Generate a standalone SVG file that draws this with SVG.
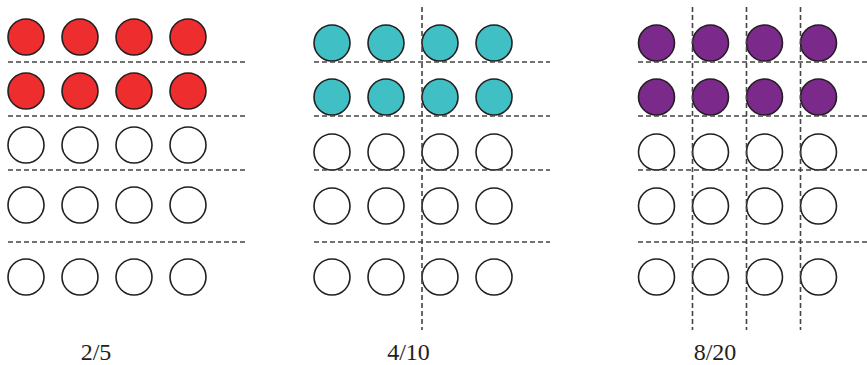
<svg xmlns="http://www.w3.org/2000/svg" width="867" height="365" viewBox="0 0 867 365">
<style>
.c{stroke:#231f20;stroke-width:1.6;fill:#fff}
.r{fill:#ee2e2e}
.t{fill:#40c0c5}
.p{fill:#7b2a8b}
.d{stroke:#444;stroke-width:1.6;stroke-dasharray:5 3;fill:none}
.lbl{font-family:"Liberation Serif","Times New Roman",serif;font-size:24px;fill:#231f20;text-anchor:middle}
</style>
<defs>
<g id="row1"><circle class="c" cx="0" cy="0" r="18"/><circle class="c" cx="54" cy="0" r="18"/><circle class="c" cx="108" cy="0" r="18"/><circle class="c" cx="162" cy="0" r="18"/></g>
</defs>
<g id="panel-2-5">
<g transform="translate(26,37)" class="r"><circle class="c r" cx="0" cy="0" r="18"/><circle class="c r" cx="54" cy="0" r="18"/><circle class="c r" cx="108" cy="0" r="18"/><circle class="c r" cx="162" cy="0" r="18"/></g>
<g transform="translate(26,91)"><circle class="c r" cx="0" cy="0" r="18"/><circle class="c r" cx="54" cy="0" r="18"/><circle class="c r" cx="108" cy="0" r="18"/><circle class="c r" cx="162" cy="0" r="18"/></g>
<use href="#row1" x="26" y="145"/>
<use href="#row1" x="26" y="205"/>
<use href="#row1" x="26" y="277"/>
<text class="lbl" x="96" y="360">2/5</text>
</g>
<g id="panel-4-10">
<g transform="translate(332,43)"><circle class="c t" cx="0" cy="0" r="18"/><circle class="c t" cx="54" cy="0" r="18"/><circle class="c t" cx="108" cy="0" r="18"/><circle class="c t" cx="162" cy="0" r="18"/></g>
<g transform="translate(332,97)"><circle class="c t" cx="0" cy="0" r="18"/><circle class="c t" cx="54" cy="0" r="18"/><circle class="c t" cx="108" cy="0" r="18"/><circle class="c t" cx="162" cy="0" r="18"/></g>
<use href="#row1" x="332" y="152"/>
<use href="#row1" x="332" y="206"/>
<use href="#row1" x="332" y="277"/>
<text class="lbl" x="408.5" y="360">4/10</text>
</g>
<g id="panel-8-20">
<g transform="translate(656.5,43)"><circle class="c p" cx="0" cy="0" r="18"/><circle class="c p" cx="54" cy="0" r="18"/><circle class="c p" cx="108" cy="0" r="18"/><circle class="c p" cx="162" cy="0" r="18"/></g>
<g transform="translate(656.5,97)"><circle class="c p" cx="0" cy="0" r="18"/><circle class="c p" cx="54" cy="0" r="18"/><circle class="c p" cx="108" cy="0" r="18"/><circle class="c p" cx="162" cy="0" r="18"/></g>
<use href="#row1" x="656.5" y="152"/>
<use href="#row1" x="656.5" y="206"/>
<use href="#row1" x="656.5" y="277"/>
<text class="lbl" x="715" y="360">8/20</text>
</g>
<g id="connectors">
<path class="d" d="M8 62H245M8 116H245M8 170H245M8 242H245"/>
<path class="d" d="M314 62H550M314 116H550M314 170H550M314 242H550"/>
<path class="d" d="M422 7V330"/>
<path class="d" d="M638 62H867M638 116H867M638 170H867M638 242H867"/>
<path class="d" d="M692.5 7V330M746.5 7V330M800.5 7V330"/>
</g>
</svg>
